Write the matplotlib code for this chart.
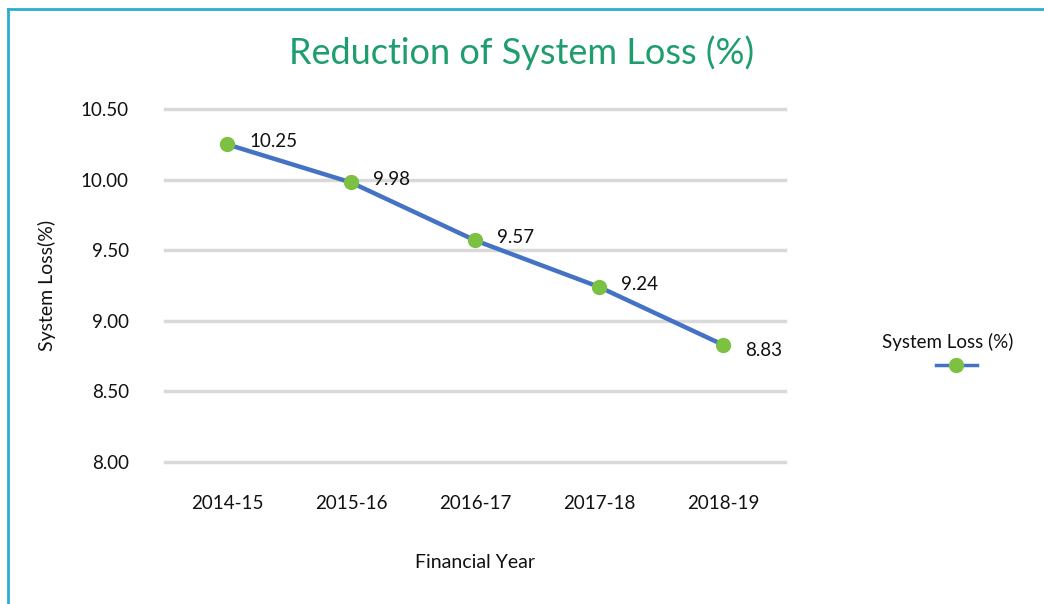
import matplotlib.pyplot as plt
from matplotlib.lines import Line2D

# Dados
years = ['2014-15', '2015-16', '2016-17', '2017-18', '2018-19']
system_loss = [10.25, 9.98, 9.57, 9.24, 8.83]
y_ticks = [8.00, 8.50, 9.00, 9.50, 10.00, 10.50]

plt.rcParams['font.family'] = ['Lato', 'DejaVu Sans']

fig = plt.figure(figsize=(10.44, 6.04), dpi=100)
ax = fig.add_axes([165 / 1044, 1 - 462 / 604, 620 / 1044, 353 / 604])

x = range(len(years))
ax.plot(x, system_loss, color='#4472C4', linewidth=3.2,
        marker='o', markersize=10, markerfacecolor='#7DC142',
        markeredgecolor='#7DC142', clip_on=False, zorder=3)

# Rótulos dos valores
for i, v in enumerate(system_loss):
    dy = -4 if i == len(system_loss) - 1 else 2
    ax.annotate(f'{v:.2f}', (i, v), xytext=(16, dy), textcoords='offset points',
                fontsize=13.5, color='#111111', va='center', ha='left')

ax.set_xlim(-0.5, len(years) - 0.5)
ax.set_ylim(8.0, 10.5)
ax.set_yticks(y_ticks)
ax.set_yticklabels([f'{t:.2f}' for t in y_ticks])
ax.set_xticks(list(x))
ax.set_xticklabels(years)
ax.tick_params(axis='both', length=0, labelsize=13.5, colors='#111111')
ax.tick_params(axis='x', pad=24)
ax.tick_params(axis='y', pad=26)
ax.yaxis.grid(True, color='#D9D9D9', linewidth=2.5)
for gl in ax.get_ygridlines():
    gl.set_clip_on(False)
ax.set_axisbelow(True)
for s in ax.spines.values():
    s.set_visible(False)

ax.set_xlabel('Financial Year', fontsize=14, color='#111111', labelpad=30)
ax.set_ylabel('System Loss(%)', fontsize=14, color='#111111', labelpad=18)

fig.text(0.5, 1 - 53 / 604, 'Reduction of System Loss (%)', fontsize=26,
         color='#1E9E6E', ha='center', va='center')

# Legenda: texto acima do marcador
leg = fig.legend(handles=[Line2D([], [], color='#4472C4', linewidth=2.5, marker='o',
                                 markersize=10, markerfacecolor='#7DC142',
                                 markeredgecolor='#7DC142')],
                 labels=[''], loc='center', bbox_to_anchor=(962 / 1044, 1 - 366 / 604),
                 frameon=False, handlelength=3)
fig.text(948 / 1044, 1 - 342 / 604, 'System Loss (%)', fontsize=13.5,
         color='#111111', ha='center', va='center')

# Borda
fig.add_artist(Line2D([8 / 1044, 1], [1 - 9 / 604, 1 - 9 / 604], color='#2AAFD0', linewidth=2))
fig.add_artist(Line2D([8 / 1044, 8 / 1044], [0, 1 - 9 / 604], color='#2AAFD0', linewidth=2))

fig.savefig('out.png', dpi=100)
